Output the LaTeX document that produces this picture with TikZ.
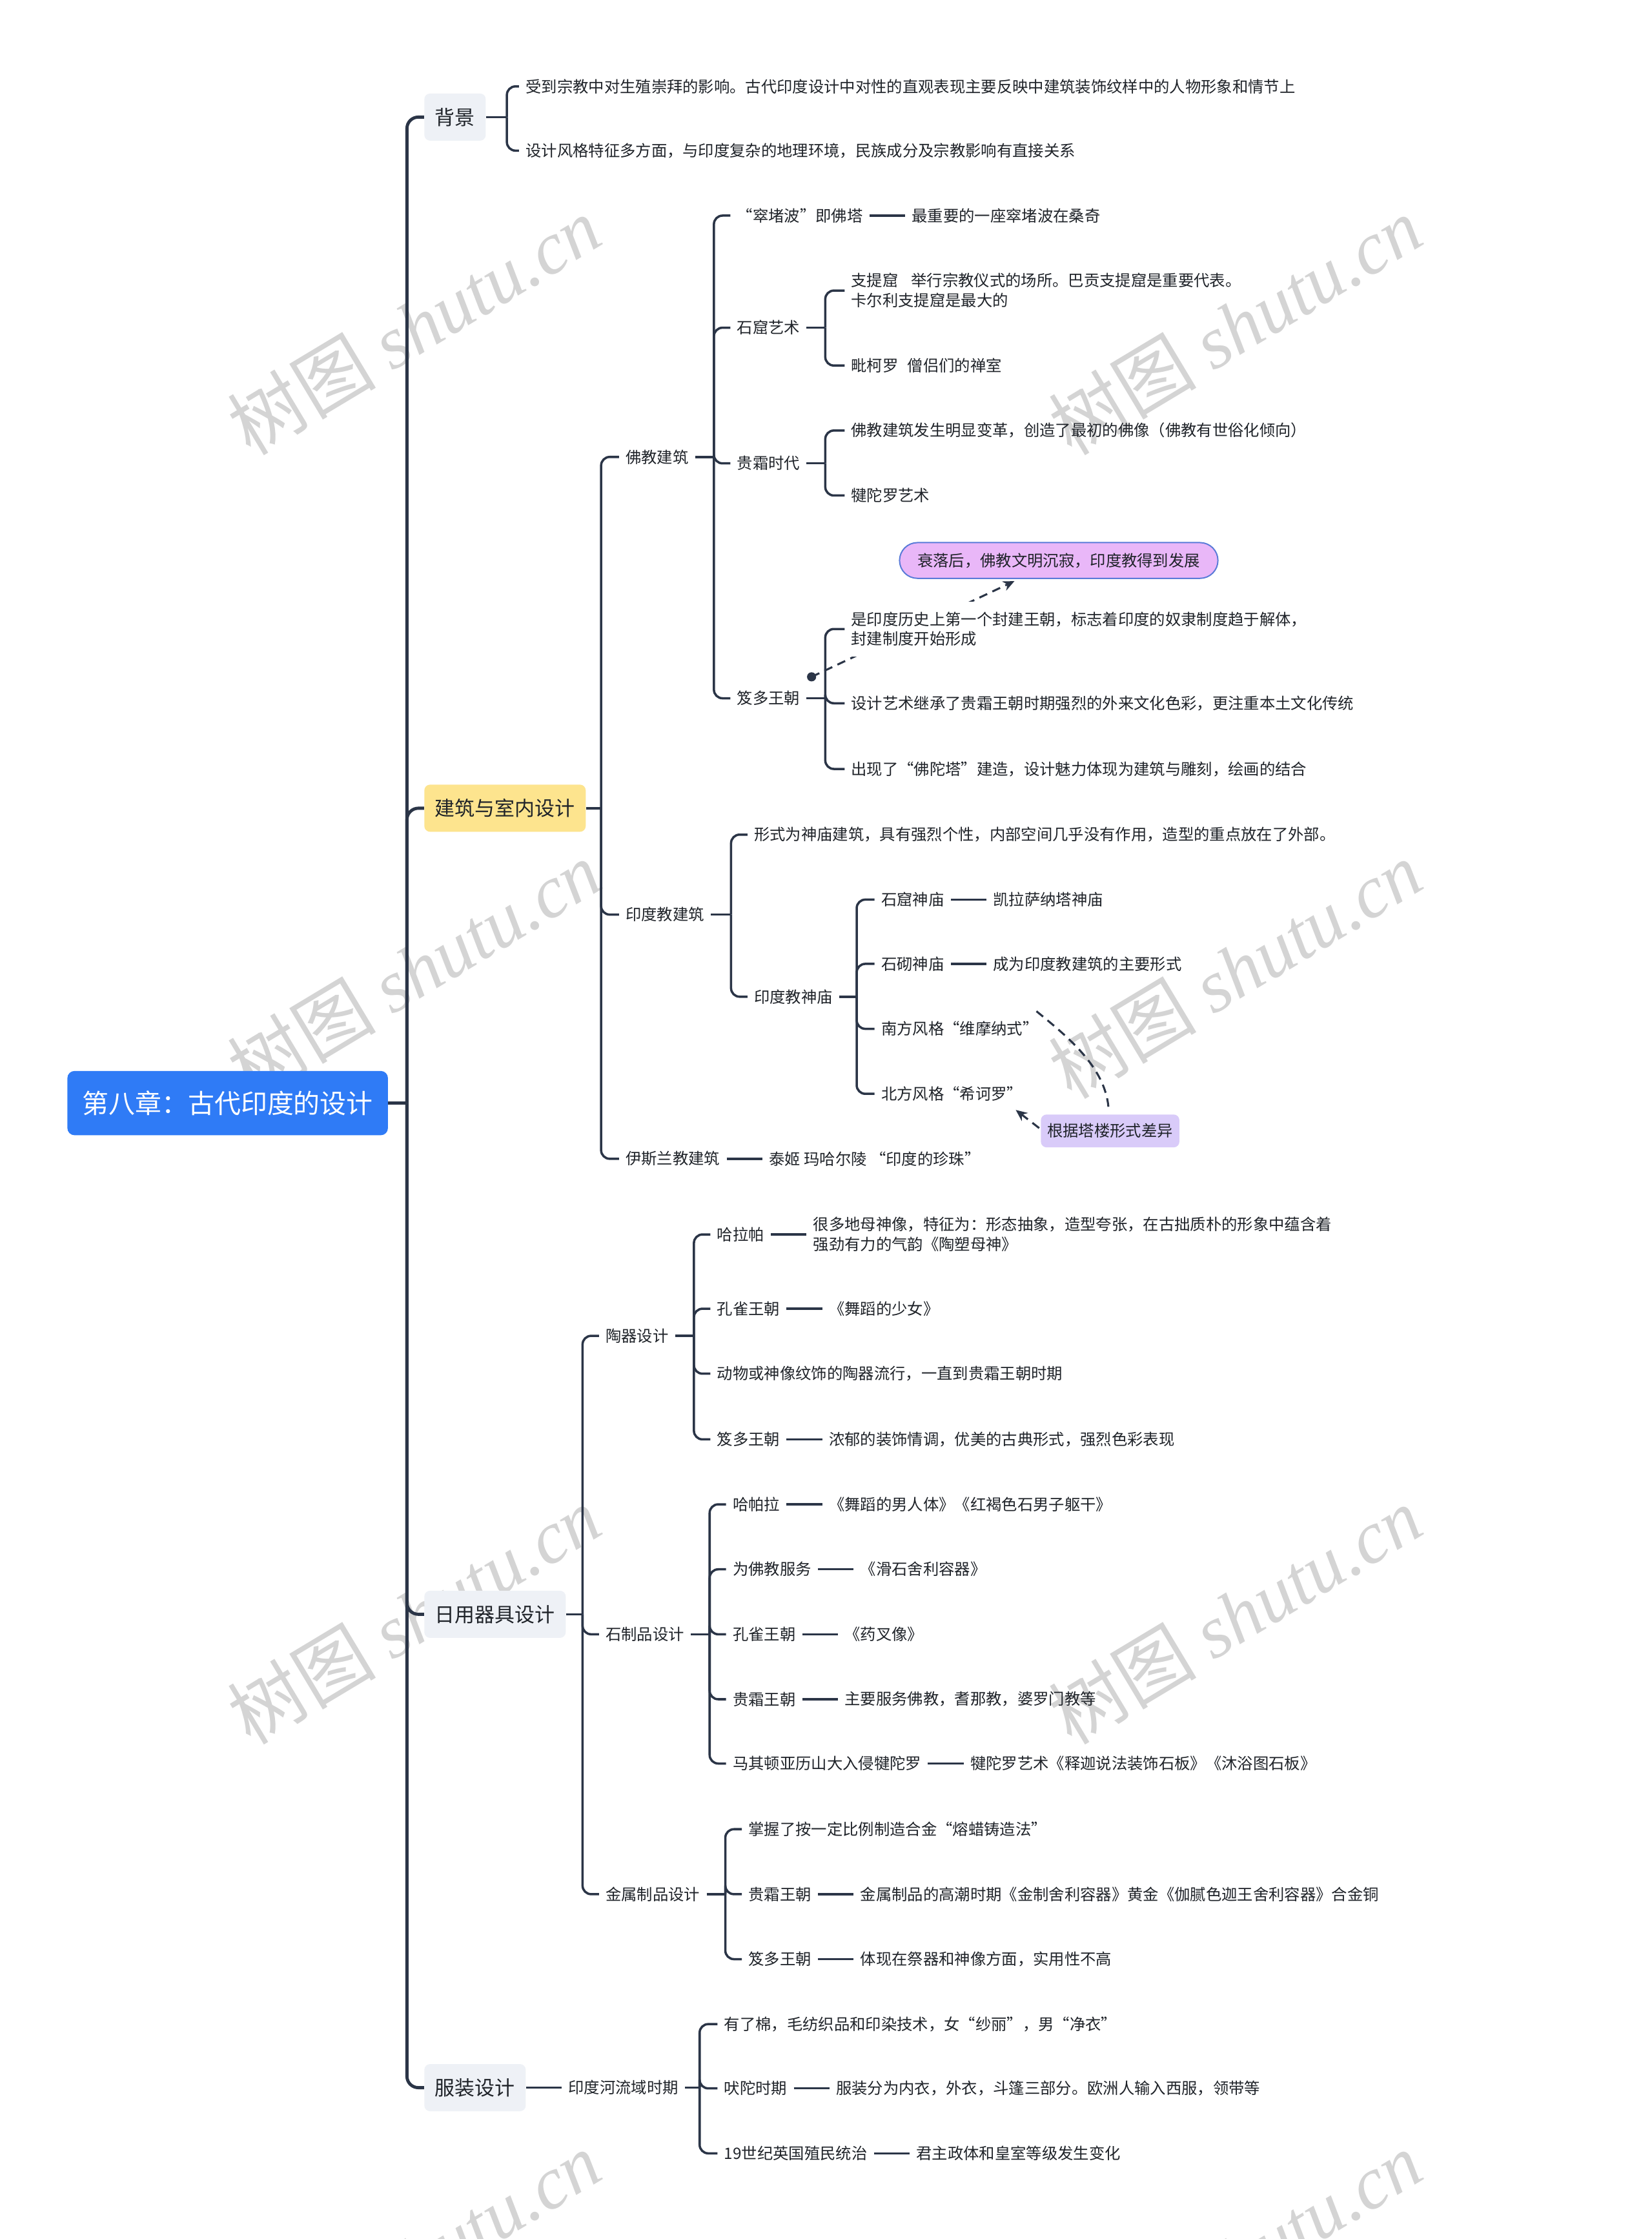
\documentclass[tikz,border=0pt]{standalone}
\usepackage{fontspec}
\setmainfont{Noto Sans CJK SC}
\newfontfamily\wmserif{Liberation Serif}
\usetikzlibrary{positioning,arrows.meta,calc}
\definecolor{lc}{HTML}{2B3547}
\definecolor{tc}{HTML}{1F2329}
\definecolor{rootc}{HTML}{2F7BF6}
\definecolor{grayc}{HTML}{EEF1F6}
\definecolor{yelc}{HTML}{FDE48E}
\definecolor{pinkc}{HTML}{E9B7F8}
\definecolor{pinkb}{HTML}{5A7BD8}
\definecolor{lavc}{HTML}{D9CBF9}
\pgfdeclarelayer{background}
\pgfsetlayers{background,main}
\tikzset{
  conn/.style={draw=lc, line width=1.6pt, rounded corners=6pt},
  trunkline/.style={draw=lc, line width=2.2pt, rounded corners=8pt},
  txt/.style={anchor=west, inner xsep=4.5pt, inner ysep=2pt,
    font=\fontsize{11}{14}\selectfont, text=tc, align=left},
  nxt/.style={txt, right=25pt of #1},
  lvl/.style={anchor=west, rounded corners=4pt, minimum height=33pt,
    inner xsep=7.5pt, inner ysep=0pt, font=\fontsize{14}{16}\selectfont,
    text=tc, fill=grayc},
  rootbox/.style={anchor=west, rounded corners=5pt, minimum height=45pt,
    inner xsep=10.5pt, inner ysep=0pt, font=\fontsize{18.5}{20}\selectfont,
    text=white, fill=rootc},
  pill/.style={rounded corners=12.5pt, minimum height=25pt, inner xsep=12.5pt,
    inner ysep=0pt, draw=pinkb, line width=0.9pt, fill=pinkc,
    font=\fontsize{11}{14}\selectfont, text=tc},
  tagbox/.style={rounded corners=4pt, minimum height=23pt, inner xsep=4.5pt,
    inner ysep=0pt, fill=lavc, font=\fontsize{11}{14}\selectfont, text=tc},
  dsh/.style={draw=lc, line width=1.4pt, dash pattern=on 6pt off 4pt},
  wm/.style={rotate=31, font=\fontsize{52}{52}\selectfont, text=black,
    opacity=0.17, inner sep=0pt}
}
\begin{document}
\begin{tikzpicture}[x=1pt,y=-1pt]
\useasboundingbox (0,0) rectangle (1157,1568);
\begin{pgfonlayer}{background}
\fill[white] (0,0) rectangle (1157,1568);
% watermarks
\foreach \x/\y in {290/228, 865/228, 290/679, 865/679, 290/1131, 865/1131, 290/1583, 865/1583}
  \node[wm] at (\x,\y) {树图 {\wmserif\itshape shutu.cn}};
\end{pgfonlayer}

% root and level 1
\node[rootbox] (root) at (47,772.5) {第八章：古代印度的设计};
\coordinate (jr) at (285,772.5);
\node[lvl] (bj) at (297,82) {背景};
\node[lvl, fill=yelc] (jz) at (297,566) {建筑与室内设计};
\node[lvl] (ry) at (297,1130.5) {日用器具设计};
\node[lvl] (fz) at (297,1462) {服装设计};
\draw[trunkline] (root.east) -- (jr);
\foreach \n in {bj,jz,ry,fz} \draw[trunkline] (jr) |- (\n.west);

% 背景
\coordinate (jbj) at (355,82);
\node[txt] (bj1) at (363.5,60.5) {受到宗教中对生殖崇拜的影响。古代印度设计中对性的直观表现主要反映中建筑装饰纹样中的人物形象和情节上};
\node[txt] (bj2) at (363.5,105.5) {设计风格特征多方面，与印度复杂的地理环境，民族成分及宗教影响有直接关系};
\draw[conn] (bj.east) -- (jbj);
\foreach \n in {bj1,bj2} \draw[conn] (jbj) |- (\n.west);

% 建筑与室内设计
\coordinate (jjz) at (421,566);
\node[txt] (fj) at (433.5,320) {佛教建筑};
\node[txt] (ydj) at (433.5,640.5) {印度教建筑};
\node[txt] (ysl) at (433.5,811.5) {伊斯兰教建筑};
\node[nxt=ysl] (tj) {泰姬 玛哈尔陵 “印度的珍珠”};
\draw[conn] (jz.east) -- (jjz);
\foreach \n in {fj,ydj,ysl} \draw[conn] (jjz) |- (\n.west);

% 佛教建筑
\coordinate (jfj) at (500,320);
\node[txt] (stupa) at (511.5,151) {“窣堵波”即佛塔};
\node[nxt=stupa] (stupa2) {最重要的一座窣堵波在桑奇};
\node[txt] (sk) at (511.5,229.5) {石窟艺术};
\node[txt] (gs) at (511.5,324.5) {贵霜时代};
\node[txt] (jd) at (511.5,489) {笈多王朝};
\draw[conn] (fj.east) -- (jfj);
\foreach \n in {stupa,sk,gs,jd} \draw[conn] (jfj) |- (\n.west);

\coordinate (jsk) at (578,229.5);
\node[txt] (zt) at (591.5,203.5) {支提窟\hspace{9pt}举行宗教仪式的场所。巴贡支提窟是重要代表。\\卡尔利支提窟是最大的};
\node[txt] (pkl) at (591.5,256) {毗柯罗\hspace{6.5pt}僧侣们的禅室};
\draw[conn] (sk.east) -- (jsk);
\foreach \n in {zt,pkl} \draw[conn] (jsk) |- (\n.west);

\coordinate (jgs) at (578,324.5);
\node[txt] (gs1) at (591.5,301.5) {佛教建筑发生明显变革，创造了最初的佛像（佛教有世俗化倾向）};
\node[txt] (gs2) at (591.5,347) {犍陀罗艺术};
\draw[conn] (gs.east) -- (jgs);
\foreach \n in {gs1,gs2} \draw[conn] (jgs) |- (\n.west);

\coordinate (jjd) at (578,489);
\node[txt, fill=white, inner ysep=7pt] (jd1) at (591.5,440.5) {是印度历史上第一个封建王朝，标志着印度的奴隶制度趋于解体，\\封建制度开始形成};
\node[txt] (jd2) at (591.5,492.5) {设计艺术继承了贵霜王朝时期强烈的外来文化色彩，更注重本土文化传统};
\node[txt] (jd3) at (591.5,538.5) {出现了“佛陀塔”建造，设计魅力体现为建筑与雕刻，绘画的结合};
\draw[conn] (jd.east) -- (jjd);
\foreach \n in {jd1,jd2,jd3} \draw[conn] (jjd) |- (\n.west);
\node[pill] (sl) at (741.5,392.5) {衰落后，佛教文明沉寂，印度教得到发展};
\begin{pgfonlayer}{background}
\draw[dsh, -{Stealth[length=8pt,width=7pt]}] ($(jd.east)+(3.5,-15)$) -- ($(sl.south)+(-31,1.5)$);
\end{pgfonlayer}
\fill[lc] ($(jd.east)+(3.5,-15)$) circle (3.2pt);

% 印度教建筑
\coordinate (jydj) at (512,640.5);
\node[txt] (xs) at (523.5,584.5) {形式为神庙建筑，具有强烈个性，内部空间几乎没有作用，造型的重点放在了外部。};
\node[txt] (sm) at (523.5,698) {印度教神庙};
\draw[conn] (ydj.east) -- (jydj);
\foreach \n in {xs,sm} \draw[conn] (jydj) |- (\n.west);

\coordinate (jsm) at (600,698);
\node[txt] (skm) at (612.5,630) {石窟神庙};
\node[nxt=skm] (skm2) {凯拉萨纳塔神庙};
\node[txt] (sqm) at (612.5,675) {石砌神庙};
\node[nxt=sqm] (sqm2) {成为印度教建筑的主要形式};
\node[txt] (nf) at (612.5,720.5) {南方风格“维摩纳式”};
\node[txt] (bf) at (612.5,766) {北方风格“希诃罗”};
\draw[conn] (sm.east) -- (jsm);
\foreach \n in {skm,sqm,nf,bf} \draw[conn] (jsm) |- (\n.west);
\node[tagbox] (gj) at (777.5,792) {根据塔楼形式差异};
\draw[dsh] ($(nf.north east)+(-6,-5)$) .. controls +(22,18) and +(-1,-30) .. ($(gj.north)+(-1,-2)$);
\draw[dsh, -{Stealth[length=8pt,width=7pt]}] ($(gj.west)+(-1,-2)$) -- ($(bf.south east)+(-9.5,4)$);

% 日用器具设计
\coordinate (jry) at (408,1130.5);
\node[txt] (tq) at (419.5,935.5) {陶器设计};
\node[txt] (sz) at (419.5,1144.5) {石制品设计};
\node[txt] (js) at (419.5,1326.5) {金属制品设计};
\draw[conn] (ry.east) -- (jry);
\foreach \n in {tq,sz,js} \draw[conn] (jry) |- (\n.west);

\coordinate (jtq) at (486,935.5);
\node[txt] (hlp) at (497.5,864.5) {哈拉帕};
\node[nxt=hlp] (hlp2) {很多地母神像，特征为：形态抽象，造型夸张，在古拙质朴的形象中蕴含着\\强劲有力的气韵《陶塑母神》};
\node[txt] (kq) at (497.5,916.5) {孔雀王朝};
\node[nxt=kq] (kq2) {《舞蹈的少女》};
\node[txt] (dw) at (497.5,962) {动物或神像纹饰的陶器流行，一直到贵霜王朝时期};
\node[txt] (jdb) at (497.5,1008) {笈多王朝};
\node[nxt=jdb] (jdb2) {浓郁的装饰情调，优美的古典形式，强烈色彩表现};
\draw[conn] (tq.east) -- (jtq);
\foreach \n in {hlp,kq,dw,jdb} \draw[conn] (jtq) |- (\n.west);

\coordinate (jsz) at (497,1144.5);
\node[txt] (hpl) at (508.5,1053.5) {哈帕拉};
\node[nxt=hpl] (hpl2) {《舞蹈的男人体》《红褐色石男子躯干》};
\node[txt] (wfj) at (508.5,1099) {为佛教服务};
\node[nxt=wfj] (wfj2) {《滑石舍利容器》};
\node[txt] (kqc) at (508.5,1144.5) {孔雀王朝};
\node[nxt=kqc] (kqc2) {《药叉像》};
\node[txt] (gsc) at (508.5,1190) {贵霜王朝};
\node[nxt=gsc] (gsc2) {主要服务佛教，耆那教，婆罗门教等};
\node[txt] (mqd) at (508.5,1235) {马其顿亚历山大入侵犍陀罗};
\node[nxt=mqd] (mqd2) {犍陀罗艺术《释迦说法装饰石板》《沐浴图石板》};
\draw[conn] (sz.east) -- (jsz);
\foreach \n in {hpl,wfj,kqc,gsc,mqd} \draw[conn] (jsz) |- (\n.west);

\coordinate (jjs) at (508,1326.5);
\node[txt] (zw) at (519.5,1281) {掌握了按一定比例制造合金“熔蜡铸造法”};
\node[txt] (gsd) at (519.5,1326.5) {贵霜王朝};
\node[nxt=gsd] (gsd2) {金属制品的高潮时期《金制舍利容器》黄金《伽腻色迦王舍利容器》合金铜};
\node[txt] (jdd) at (519.5,1372) {笈多王朝};
\node[nxt=jdd] (jdd2) {体现在祭器和神像方面，实用性不高};
\draw[conn] (js.east) -- (jjs);
\foreach \n in {zw,gsd,jdd} \draw[conn] (jjs) |- (\n.west);

% 服装设计
\node[nxt=fz] (ydh) {印度河流域时期};
\coordinate (jyd) at (490,1462);
\node[txt] (yd1) at (502.5,1417.5) {有了棉，毛纺织品和印染技术，女“纱丽”，男“净衣”};
\node[txt] (ft) at (502.5,1462.5) {吠陀时期};
\node[nxt=ft] (ft2) {服装分为内衣，外衣，斗篷三部分。欧洲人输入西服，领带等};
\node[txt] (c19) at (502.5,1508) {19世纪英国殖民统治};
\node[nxt=c19] (c192) {君主政体和皇室等级发生变化};
\draw[conn] (ydh.east) -- (jyd);
\foreach \n in {yd1,ft,c19} \draw[conn] (jyd) |- (\n.west);

% single-child links
\foreach \a/\b in {stupa/stupa2, skm/skm2, sqm/sqm2, ysl/tj, hlp/hlp2, kq/kq2,
  jdb/jdb2, hpl/hpl2, wfj/wfj2, kqc/kqc2, gsc/gsc2, mqd/mqd2, gsd/gsd2,
  jdd/jdd2, fz/ydh, ft/ft2, c19/c192}
  \draw[conn] (\a.east) -- (\b.west);
\end{tikzpicture}
\end{document}
